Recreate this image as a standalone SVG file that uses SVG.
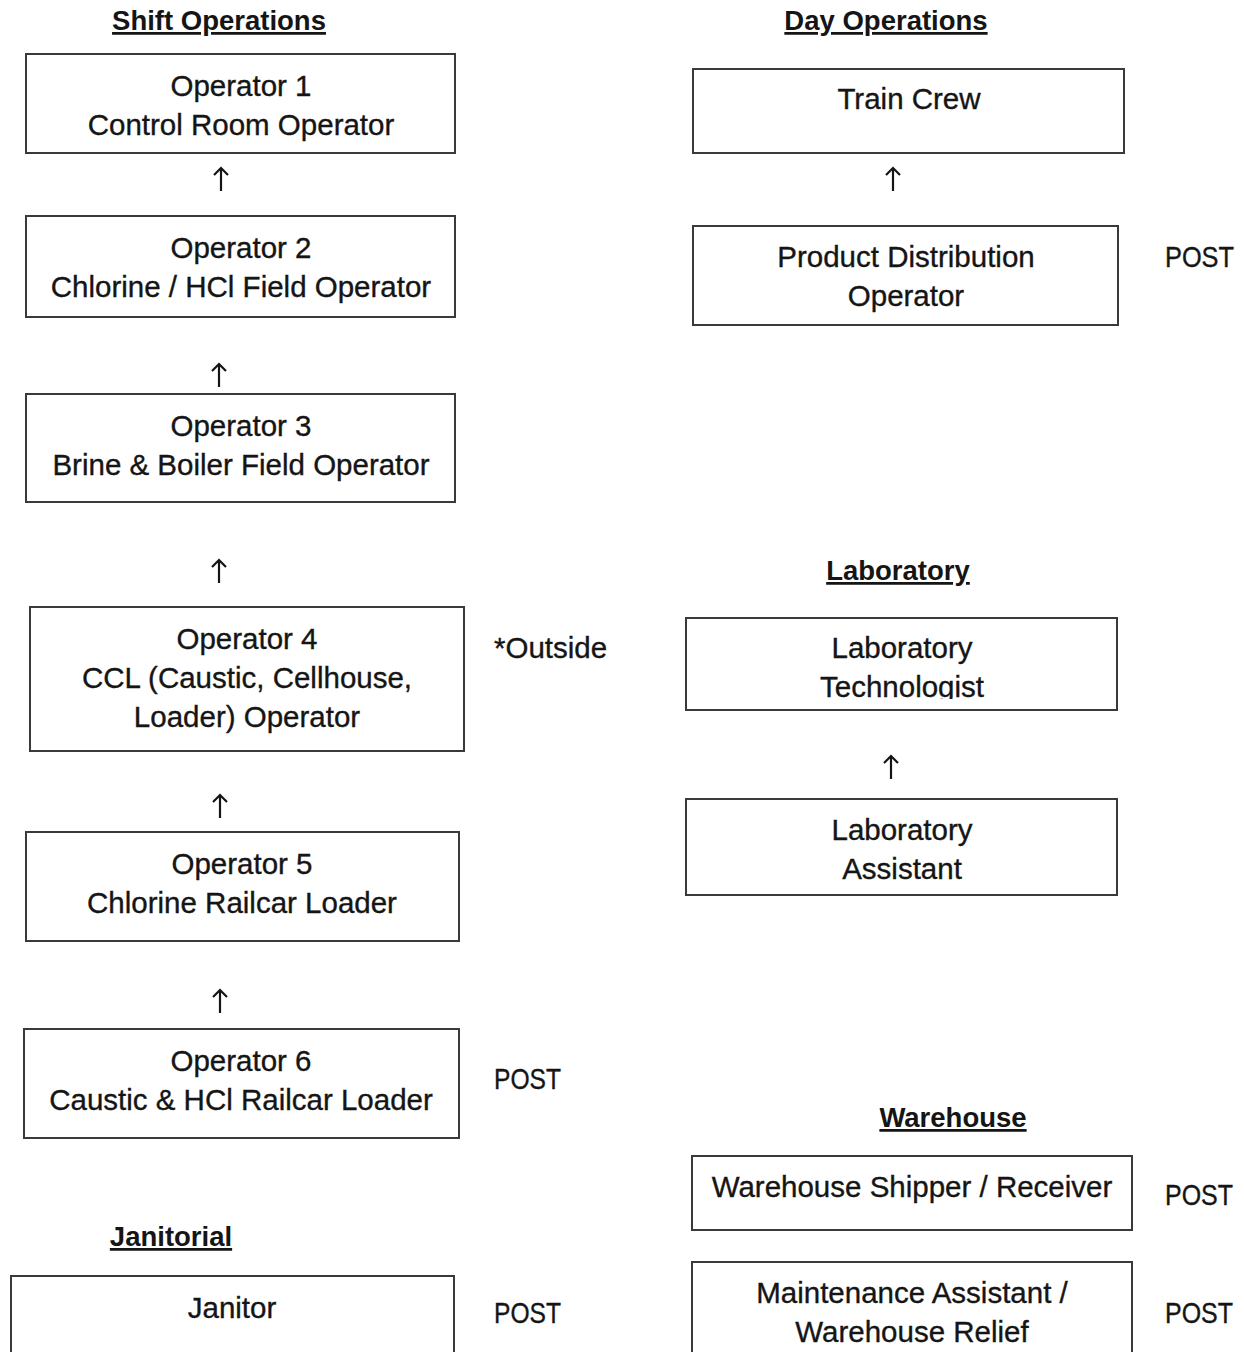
<svg xmlns="http://www.w3.org/2000/svg" width="1244" height="1352" viewBox="0 0 1244 1352">
<style>
text{font-family:"Liberation Sans",Arial,sans-serif;fill:#151515;stroke:#151515;stroke-width:0.35}
.t{font-size:29.5px;text-anchor:middle}
.h{font-size:27.5px;font-weight:bold;text-anchor:middle;text-decoration:underline;stroke:none}
.n{font-size:29.5px}
rect{fill:#fff;stroke:#3a3a3a;stroke-width:2}
.c path{stroke:#151515;stroke-width:2.2;fill:none}
</style>
<defs>
<clipPath id="clipTech"><rect x="686" y="618" width="431" height="81"/></clipPath>
</defs>
<rect x="0" y="0" width="1244" height="1352" style="fill:#fff;stroke:none"/>
<g id="headings">
<text class="h" x="219" y="30">Shift Operations</text>
<text class="h" x="886" y="30">Day Operations</text>
<text class="h" x="898" y="580">Laboratory</text>
<text class="h" x="953" y="1127">Warehouse</text>
<text class="h" x="171" y="1246">Janitorial</text>
</g>
<g id="op1"><rect x="26" y="54" width="429" height="99"/><text class="t" x="241" y="96">Operator 1</text><text class="t" x="241" y="135">Control Room Operator</text></g>
<g id="op2"><rect x="26" y="216" width="429" height="101"/><text class="t" x="241" y="258">Operator 2</text><text class="t" x="241" y="297">Chlorine / HCl Field Operator</text></g>
<g id="op3"><rect x="26" y="394" width="429" height="108"/><text class="t" x="241" y="436">Operator 3</text><text class="t" x="241" y="475">Brine &amp; Boiler Field Operator</text></g>
<g id="op4"><rect x="30" y="607" width="434" height="144"/><text class="t" x="247" y="649">Operator 4</text><text class="t" x="247" y="688">CCL (Caustic, Cellhouse,</text><text class="t" x="247" y="727">Loader) Operator</text></g>
<g id="op5"><rect x="26" y="832" width="433" height="109"/><text class="t" x="242" y="874">Operator 5</text><text class="t" x="242" y="913">Chlorine Railcar Loader</text></g>
<g id="op6"><rect x="24" y="1029" width="435" height="109"/><text class="t" x="241" y="1071">Operator 6</text><text class="t" x="241" y="1110">Caustic &amp; HCl Railcar Loader</text></g>
<g id="janitor"><rect x="11" y="1276" width="443" height="100"/><text class="t" x="232" y="1318">Janitor</text></g>
<g id="traincrew"><rect x="693" y="69" width="431" height="84"/><text class="t" x="909" y="109">Train Crew</text></g>
<g id="productdist"><rect x="693" y="226" width="425" height="99"/><text class="t" x="906" y="267">Product Distribution</text><text class="t" x="906" y="306">Operator</text></g>
<g id="labtech"><rect x="686" y="618" width="431" height="92"/><g clip-path="url(#clipTech)"><text class="t" x="902" y="658">Laboratory</text><text class="t" x="902" y="697">Technologist</text></g></g>
<g id="labassist"><rect x="686" y="799" width="431" height="96"/><text class="t" x="902" y="840">Laboratory</text><text class="t" x="902" y="879">Assistant</text></g>
<g id="whshipper"><rect x="692" y="1156" width="440" height="74"/><text class="t" x="912" y="1197">Warehouse Shipper / Receiver</text></g>
<g id="maintenance"><rect x="692" y="1262" width="440" height="110"/><text class="t" x="912" y="1303">Maintenance Assistant /</text><text class="t" x="912" y="1342">Warehouse Relief</text></g>
<g id="notes">
<text class="n" x="1165" y="267" textLength="69" lengthAdjust="spacingAndGlyphs">POST</text>
<text class="n" x="494" y="658">*Outside</text>
<text class="n" x="494" y="1089" textLength="67" lengthAdjust="spacingAndGlyphs">POST</text>
<text class="n" x="1165" y="1205" textLength="68" lengthAdjust="spacingAndGlyphs">POST</text>
<text class="n" x="494" y="1323" textLength="67" lengthAdjust="spacingAndGlyphs">POST</text>
<text class="n" x="1165" y="1323" textLength="68" lengthAdjust="spacingAndGlyphs">POST</text>
</g>
<g id="connectors" class="c">
<path d="M221 191V168M214 175L221 168L228 175"/>
<path d="M219 387V364M212 371L219 364L226 371"/>
<path d="M219 583V560M212 567L219 560L226 567"/>
<path d="M220 818V795M213 802L220 795L227 802"/>
<path d="M220 1013V990M213 997L220 990L227 997"/>
<path d="M893 191V168M886 175L893 168L900 175"/>
<path d="M891 779V756M884 763L891 756L898 763"/>
</g>
</svg>
